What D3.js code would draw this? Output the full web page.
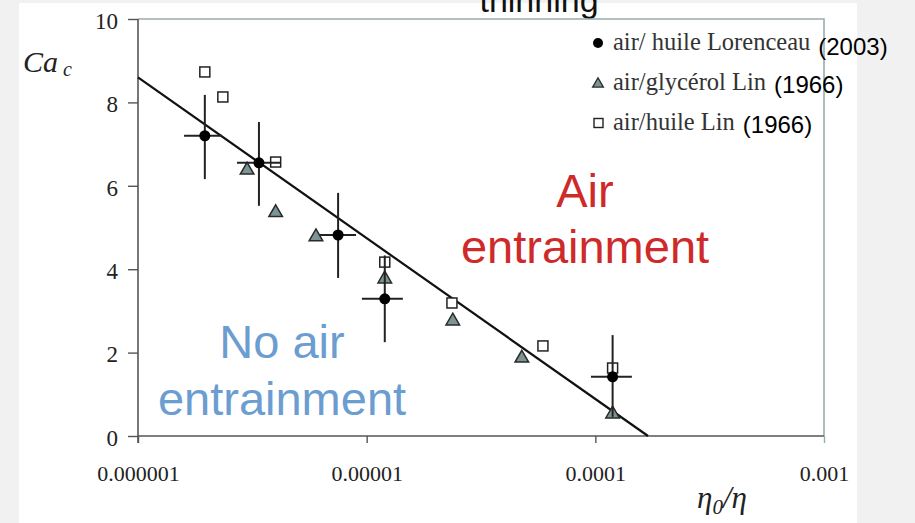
<!DOCTYPE html>
<html>
<head>
<meta charset="utf-8">
<script src="https://cdn.jsdelivr.net/npm/d3@7/dist/d3.min.js"></script>
<style>
  html, body { margin: 0; padding: 0; background: #f1f1f1; }
  svg { display: block; }
</style>
</head>
<body>
<svg id="chart" width="915" height="523"></svg>
<script>
// Critical capillary number versus viscosity ratio (log scale)

// Lorenceau (2003), air / oil: centre, vertical and horizontal error bars
const lorX    = [1.96e-6, 3.38e-6, 7.5e-6, 1.2e-5, 1.19e-4];
const lorY    = [7.2, 6.55, 4.82, 3.29, 1.42];
const lorYLo  = [6.16, 5.52, 3.79, 2.25, 0.46];
const lorYHi  = [8.18, 7.53, 5.83, 4.33, 2.42];
const lorXLo  = [1.59e-6, 2.71e-6, 6.25e-6, 9.53e-6, 9.57e-5];
const lorXHi  = [2.33e-6, 4.22e-6, 8.98e-6, 1.44e-5, 1.445e-4];

// Lin (1966), air / glycerol
const glyX = [3.0e-6, 4.0e-6, 6.0e-6, 1.2e-5, 2.38e-5, 4.77e-5, 1.19e-4];
const glyY = [6.4, 5.38, 4.8, 3.79, 2.78, 1.89, 0.55];

// Lin (1966), air / oil
const oilX = [1.96e-6, 2.35e-6, 4.0e-6, 1.2e-5, 2.36e-5, 5.9e-5, 1.19e-4];
const oilY = [8.73, 8.13, 6.57, 4.17, 3.19, 2.16, 1.63];

// Boundary line between the two regimes
const fitX = [1e-6, 1.7e-4];
const fitY = [8.6, 0];

// Axis ticks
const xTicks = [1e-6, 1e-5, 1e-4, 1e-3];
const xTickLabels = ["0.000001", "0.00001", "0.0001", "0.001"];
const yTicks = [0, 2, 4, 6, 8, 10];

// Legend entries
const legendNames = ["air/ huile Lorenceau", "air/glycérol Lin", "air/huile Lin"];
const legendYears = ["(2003)", "(1966)", "(1966)"];
const legendShapes = ["circle", "triangle", "square"];

const svg = d3.select("#chart");
const serif = "'Liberation Serif', 'Times New Roman', serif";
const sans = "'Liberation Sans', Arial, sans-serif";

// slide area
svg.append("rect").attr("x", 19).attr("y", 3).attr("width", 838).attr("height", 520).attr("fill", "#ffffff");

const plotL = 138, plotR = 824, plotT = 19, plotB = 436;
const x = d3.scaleLog().domain([1e-6, 1e-3]).range([plotL, plotR]);
const y = d3.scaleLinear().domain([0, 10]).range([plotB, plotT]);

// title fragment at the top edge of the slide
svg.append("text").attr("x", 539).attr("y", 12).attr("text-anchor", "middle")
  .attr("font-family", sans).attr("font-size", 34).attr("fill", "#111").text("thinning");

// frame: top and right
svg.append("path")
  .attr("d", `M${plotL},${plotT}H${plotR}V${plotB}`)
  .attr("fill", "none").attr("stroke", "#98adad").attr("stroke-width", 1.6);

// y axis
const yAxis = svg.append("g").attr("transform", `translate(${plotL},0)`)
  .call(d3.axisLeft(y).tickValues(yTicks).tickSize(10).tickPadding(10).tickFormat(d3.format("d")));
yAxis.select(".domain").attr("stroke", "#555").attr("stroke-width", 1.6).attr("d", `M0,${plotT}V${plotB + 7}`);
yAxis.selectAll(".tick line").attr("stroke", "#555").attr("stroke-width", 1.4);
yAxis.selectAll(".tick text").attr("font-family", serif).attr("font-size", 23).attr("fill", "#222").attr("dy", "0.4em");

// x axis
const xAxis = svg.append("g").attr("transform", `translate(0,${plotB})`)
  .call(d3.axisBottom(x).tickValues(xTicks).tickSize(7).tickPadding(22)
    .tickFormat((d, i) => xTickLabels[i]));
xAxis.select(".domain").attr("stroke", "#555").attr("stroke-width", 1.6).attr("d", `M${plotL},0H${plotR}`);
xAxis.selectAll(".tick line").attr("stroke", "#555").attr("stroke-width", 1.4);
xAxis.selectAll(".tick").filter(d => d === 1e-3).select("line").attr("stroke", "#98adad");
xAxis.selectAll(".tick text").attr("font-family", serif).attr("font-size", 22).attr("fill", "#222");

// axis titles
const yt = svg.append("text").attr("x", 23).attr("y", 72).attr("font-family", serif)
  .attr("font-style", "italic").attr("font-size", 30).attr("fill", "#222");
yt.append("tspan").text("Ca");
yt.append("tspan").attr("dx", 5).attr("dy", 4).attr("font-size", 20).text("c");

const xt = svg.append("text").attr("x", 697).attr("y", 508).attr("font-family", serif)
  .attr("font-style", "italic").attr("font-size", 31).attr("fill", "#222");
xt.append("tspan").text("η");
xt.append("tspan").attr("dy", 6).attr("font-size", 21).text("0");
xt.append("tspan").attr("dy", -6).text("/η");

// region labels
const red = "#cf2a2a", blue = "#6c9dd0";
[["Air", 207], ["entrainment", 263]].forEach(([t, yy]) =>
  svg.append("text").attr("x", 585).attr("y", yy).attr("text-anchor", "middle")
    .attr("font-family", sans).attr("font-size", 47).attr("fill", red).text(t));
[["No air", 358], ["entrainment", 415]].forEach(([t, yy]) =>
  svg.append("text").attr("x", 282).attr("y", yy).attr("text-anchor", "middle")
    .attr("font-family", sans).attr("font-size", 47).attr("fill", blue).text(t));

// regime boundary
svg.append("path")
  .datum(fitX.map((v, i) => [v, fitY[i]]))
  .attr("d", d3.line().x(d => x(d[0])).y(d => y(d[1])))
  .attr("fill", "none").attr("stroke", "#111").attr("stroke-width", 2.2);

// marker shapes
const triPath = d3.symbol().type(d3.symbolTriangle).size(80)();
const triFill = "#7c9494";

// Lin air/oil squares
svg.append("g").selectAll("rect").data(oilX).join("rect")
  .attr("x", d => x(d) - 5).attr("y", (d, i) => y(oilY[i]) - 5)
  .attr("width", 10).attr("height", 10)
  .attr("fill", "#fff").attr("stroke", "#222").attr("stroke-width", 1.5);

// Lin air/glycerol triangles
svg.append("g").selectAll("path").data(glyX).join("path")
  .attr("transform", (d, i) => `translate(${x(d)},${y(glyY[i]) + 1})`)
  .attr("d", triPath).attr("fill", triFill).attr("stroke", "#2a2a2a").attr("stroke-width", 1.5);

// Lorenceau error bars and points
const eb = svg.append("g").attr("stroke", "#222").attr("stroke-width", 2);
lorX.forEach((v, i) => {
  eb.append("line").attr("x1", x(v)).attr("x2", x(v)).attr("y1", y(lorYLo[i])).attr("y2", y(lorYHi[i]));
  eb.append("line").attr("x1", x(lorXLo[i])).attr("x2", x(lorXHi[i])).attr("y1", y(lorY[i])).attr("y2", y(lorY[i]));
});
svg.append("g").selectAll("circle").data(lorX).join("circle")
  .attr("cx", d => x(d)).attr("cy", (d, i) => y(lorY[i])).attr("r", 5.5).attr("fill", "#000");

// legend
const legBase = [50, 90, 130];
const yearBase = [55, 93, 133];
const legMarkY = [43, 83, 123];
const leg = svg.append("g");
legendNames.forEach((name, i) => {
  const s = legendShapes[i];
  if (s === "circle") {
    leg.append("circle").attr("cx", 598).attr("cy", legMarkY[i]).attr("r", 5).attr("fill", "#000");
  } else if (s === "triangle") {
    leg.append("path").attr("transform", `translate(598,${legMarkY[i] + 1})`)
      .attr("d", d3.symbol().type(d3.symbolTriangle).size(50)())
      .attr("fill", triFill).attr("stroke", "#2a2a2a").attr("stroke-width", 1.3);
  } else {
    leg.append("rect").attr("x", 594).attr("y", legMarkY[i] - 4.5).attr("width", 9).attr("height", 9)
      .attr("fill", "#fff").attr("stroke", "#222").attr("stroke-width", 1.4);
  }
  const t = leg.append("text").attr("x", 613).attr("y", legBase[i]).attr("font-family", serif)
    .attr("font-size", 24.5).attr("fill", "#333").text(name);
  const w = t.node().getComputedTextLength();
  leg.append("text").attr("x", 613 + w + 8).attr("y", yearBase[i]).attr("font-family", sans)
    .attr("font-size", 24).attr("fill", "#000").text(legendYears[i]);
});
</script>
</body>
</html>
